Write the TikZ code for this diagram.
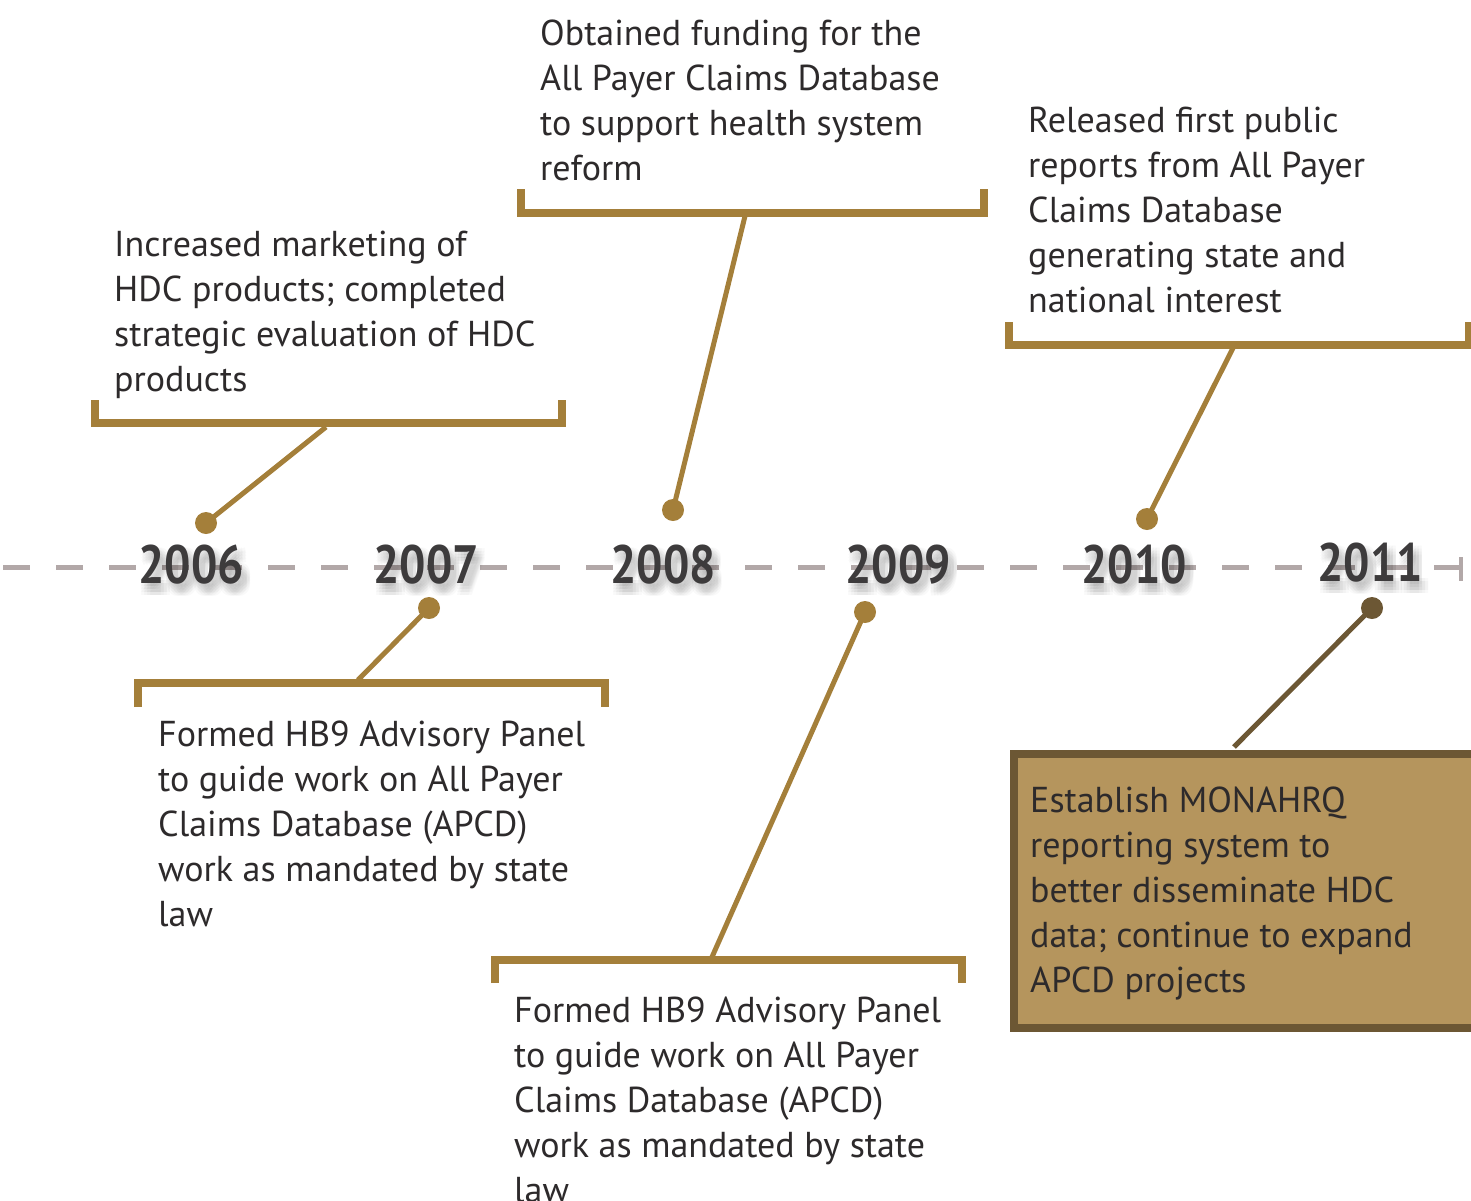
\documentclass[tikz,border=0pt]{standalone}
\usepackage{fontspec}
\setmainfont{PT Sans}
\usetikzlibrary{calc}
\definecolor{gold}{RGB}{164,127,58}
\definecolor{darkbrown}{RGB}{108,87,52}
\definecolor{boxfill}{RGB}{181,149,93}
\definecolor{dashgray}{RGB}{178,168,168}
\definecolor{yeartxt}{RGB}{61,59,60}
\definecolor{bodytxt}{RGB}{45,42,43}
\begin{document}
\begin{tikzpicture}[x=1pt,y=-1pt,
  body/.style={anchor=base west, align=left, inner sep=0pt, text=bodytxt,
    font=\fontsize{36}{45}\selectfont},
  yearlbl/.style={anchor=base, inner sep=0pt, text=yeartxt,
    font=\fontsize{54}{54}\selectfont\bfseries},
  yearshadow/.style={anchor=base, inner sep=0pt, text=black, text opacity=0.025,
    font=\fontsize{54}{54}\selectfont\bfseries},
  dot/.style={circle, fill=gold, minimum size=22pt, inner sep=0pt},
  bracket/.style={draw=gold, line width=8pt, line join=miter, line cap=butt},
  conn/.style={draw=gold, line width=5pt},
  axis/.style={draw=dashgray, line width=5pt, dash pattern=on 26.5pt off 26.5pt},
]
\useasboundingbox (0,0) rectangle (1471,1200);

% timeline axis
\coordinate (ax0) at (3,567);
\coordinate (ax1) at (1460,567);
\draw[axis] (ax0) -- (ax1);
\coordinate (tk0) at (1461,557);
\coordinate (tk1) at (1461,581);
\draw[dashgray, line width=4pt] (tk0) -- (tk1);

% year labels with soft shadow
\foreach \yr/\xx/\yy in {2006/191/583, 2007/426/583, 2008/663/583, 2009/898/583, 2010/1134/583, 2011/1370/581}{
  \foreach \dx in {0,3,6,9}{
    \foreach \dy in {3,6,9,12}{
      \node[yearshadow] at (\xx+\dx,\yy+\dy) {\scalebox{0.86}[1]{\yr}};
    }
  }
  \node[yearlbl] (y\yr) at (\xx,\yy) {\scalebox{0.86}[1]{\yr}};
}

% brackets
\draw[bracket] (95,400) -- (95,423) -- (562,423) -- (562,400);
\draw[bracket] (521,189) -- (521,212.5) -- (984,212.5) -- (984,189);
\draw[bracket] (1008.5,322) -- (1008.5,344.5) -- (1469,344.5) -- (1469,322);
\draw[bracket] (138,707) -- (138,683) -- (605,683) -- (605,707);
\draw[bracket] (495,983) -- (495,960) -- (962,960) -- (962,983);

% bracket attachment points
\coordinate (c1) at (326,427);
\coordinate (c2) at (745,216);
\coordinate (c3) at (1233,348);
\coordinate (c4) at (358,680);
\coordinate (c5) at (712,957);
\coordinate (c6) at (1234,747);

% box for 2011
\node[draw=darkbrown, fill=boxfill, line width=8pt, rectangle, inner sep=0pt,
  minimum width=470pt, minimum height=274pt, anchor=north west] (box) at (1010,750) {};

% dots
\node[dot] (p2006) at (206,523) {};
\node[dot] (p2007) at (429,608) {};
\node[dot] (p2008) at (673,510) {};
\node[dot] (p2009) at (865,612) {};
\node[dot] (p2010) at (1147,519) {};
\node[dot, fill=darkbrown] (p2011) at (1372,608) {};

% connectors
\draw[conn] (p2006.center) -- (c1);
\draw[conn] (p2008.center) -- (c2);
\draw[conn] (p2010.center) -- (c3);
\draw[conn] (p2007.center) -- (c4);
\draw[conn] (p2009.center) -- (c5);
\draw[conn, draw=darkbrown] (p2011.center) -- (c6);

% texts (anchored at the baseline of their last line)
\node[body] (t1) at (114,391) {Increased marketing of\\HDC products; completed\\strategic evaluation of HDC\\products};
\node[body] (t2) at (540,180) {Obtained funding for the\\All Payer Claims Database\\to support health system\\reform};
\node[body] (t3) at (1028,312) {Released first public\\reports from All Payer\\Claims Database\\generating state and\\national interest};
\node[body] (t4) at (158,926) {Formed HB9 Advisory Panel\\to guide work on All Payer\\Claims Database (APCD)\\work as mandated by state\\law};
\node[body] (t5) at (514,1202) {Formed HB9 Advisory Panel\\to guide work on All Payer\\Claims Database (APCD)\\work as mandated by state\\law};
\node[body] (t6) at (1030,992) {Establish MONAHRQ\\reporting system to\\better disseminate HDC\\data; continue to expand\\APCD projects};
\end{tikzpicture}
\end{document}
